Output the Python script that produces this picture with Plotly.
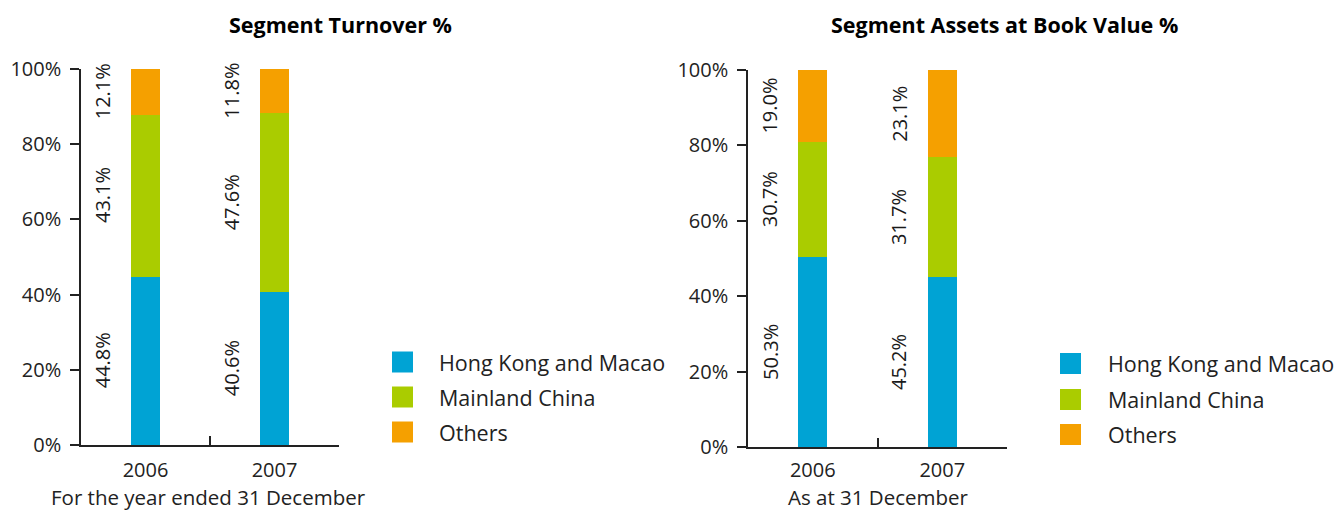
import plotly.graph_objects as go

# --- data -------------------------------------------------------------
years = ["2006", "2007"]
segments = ["Hong Kong and Macao", "Mainland China", "Others"]
turnover_hk = [44.8, 40.6]
turnover_china = [43.1, 47.6]
turnover_others = [12.1, 11.8]
assets_hk = [50.3, 45.2]
assets_china = [30.7, 31.7]
assets_others = [19.0, 23.1]
y_ticks = [0, 20, 40, 60, 80, 100]

colors = ["#00A3D4", "#AACC00", "#F5A000"]
FONT = "Open Sans"
W, H = 1335, 510

turnover = [turnover_hk, turnover_china, turnover_others]
assets = [assets_hk, assets_china, assets_others]

fig = go.Figure()


def px_x(x):
    return x / W


def px_y(y):
    return 1 - y / H


annotations = []
shapes = []


def add_panel(series, xref, yref):
    base = [0.0] * len(years)
    for name, vals, col in zip(segments, series, colors):
        fig.add_trace(go.Bar(
            x=years, y=vals, name=name, marker=dict(color=col, line=dict(width=0)),
            width=0.225, xaxis=xref, yaxis=yref, showlegend=False,
            hoverinfo="skip",
        ))
        # rotated value label to the left of each stacked segment
        for i in range(len(years)):
            annotations.append(dict(
                x=i, y=base[i] + vals[i] / 2, xref=xref, yref=yref,
                text=f"{vals[i]:.1f}%", textangle=-90, showarrow=False,
                xanchor="center", yanchor="middle",
                xshift=-43, font=dict(family=FONT, size=20, color="#1a1a1a"),
            ))
            base[i] += vals[i]


add_panel(turnover, "x", "y")
add_panel(assets, "x2", "y2")

fig.update_layout(barmode="stack")

axis_common = dict(
    showline=True, linecolor="#222", linewidth=1.5, showgrid=False,
    zeroline=False, tickfont=dict(family=FONT, size=20, color="#222"),
    automargin=False,
)
xcommon = dict(type="category", range=[-0.5, 1.5], ticks="inside", ticklen=9,
               tickwidth=1.5, tickcolor="#222", tickson="boundaries",
               **axis_common)
ycommon = dict(range=[0, 100], tickvals=y_ticks,
               ticktext=[f"{v}%" for v in y_ticks], ticks="outside", ticklen=9,
               tickwidth=1.5, tickcolor="#222", ticklabelstandoff=5, **axis_common)

fig.update_layout(
    xaxis=dict(domain=[px_x(81), px_x(339)], anchor="y", ticklabelstandoff=6, **xcommon),
    yaxis=dict(domain=[px_y(445), px_y(69)], anchor="x", **ycommon),
    xaxis2=dict(domain=[px_x(748), px_x(1007)], anchor="y2", ticklabelstandoff=4, **xcommon),
    yaxis2=dict(domain=[px_y(447), px_y(70)], anchor="x2", **ycommon),
)

# titles and axis captions
for text, cx, cy, bold in [
    ("Segment Turnover %", 340, 24, True),
    ("Segment Assets at Book Value %", 1005, 24, True),
    ("For the year ended 31 December", 208, 497, False),
    ("As at 31 December", 878, 497, False),
]:
    annotations.append(dict(
        x=px_x(cx), y=px_y(cy), xref="paper", yref="paper", showarrow=False,
        text=f"<b>{text}</b>" if bold else text, xanchor="center", yanchor="middle",
        font=dict(family=FONT, size=21.5 if bold else 20.5,
                  color="#000" if bold else "#222"),
    ))

# legends beside each panel
for sx, tx, rows in [(392, 437, [362, 397, 432]), (1060, 1106, [363.5, 399.5, 434.5])]:
    for name, col, ry in zip(segments, colors, rows):
        shapes.append(dict(
            type="rect", xref="paper", yref="paper",
            x0=px_x(sx), x1=px_x(sx + 21), y0=px_y(ry + 10.5), y1=px_y(ry - 10.5),
            fillcolor=col, line=dict(width=0),
        ))
        annotations.append(dict(
            x=px_x(tx), y=px_y(ry), xref="paper", yref="paper", showarrow=False,
            text=name, xanchor="left", yanchor="middle",
            font=dict(family=FONT, size=21.5, color="#222"),
        ))

fig.update_layout(
    width=W, height=H, margin=dict(l=0, r=0, t=0, b=0, pad=0, autoexpand=False),
    paper_bgcolor="white", plot_bgcolor="white",
    annotations=annotations, shapes=shapes, showlegend=False,
)

fig.write_html("out.html")
